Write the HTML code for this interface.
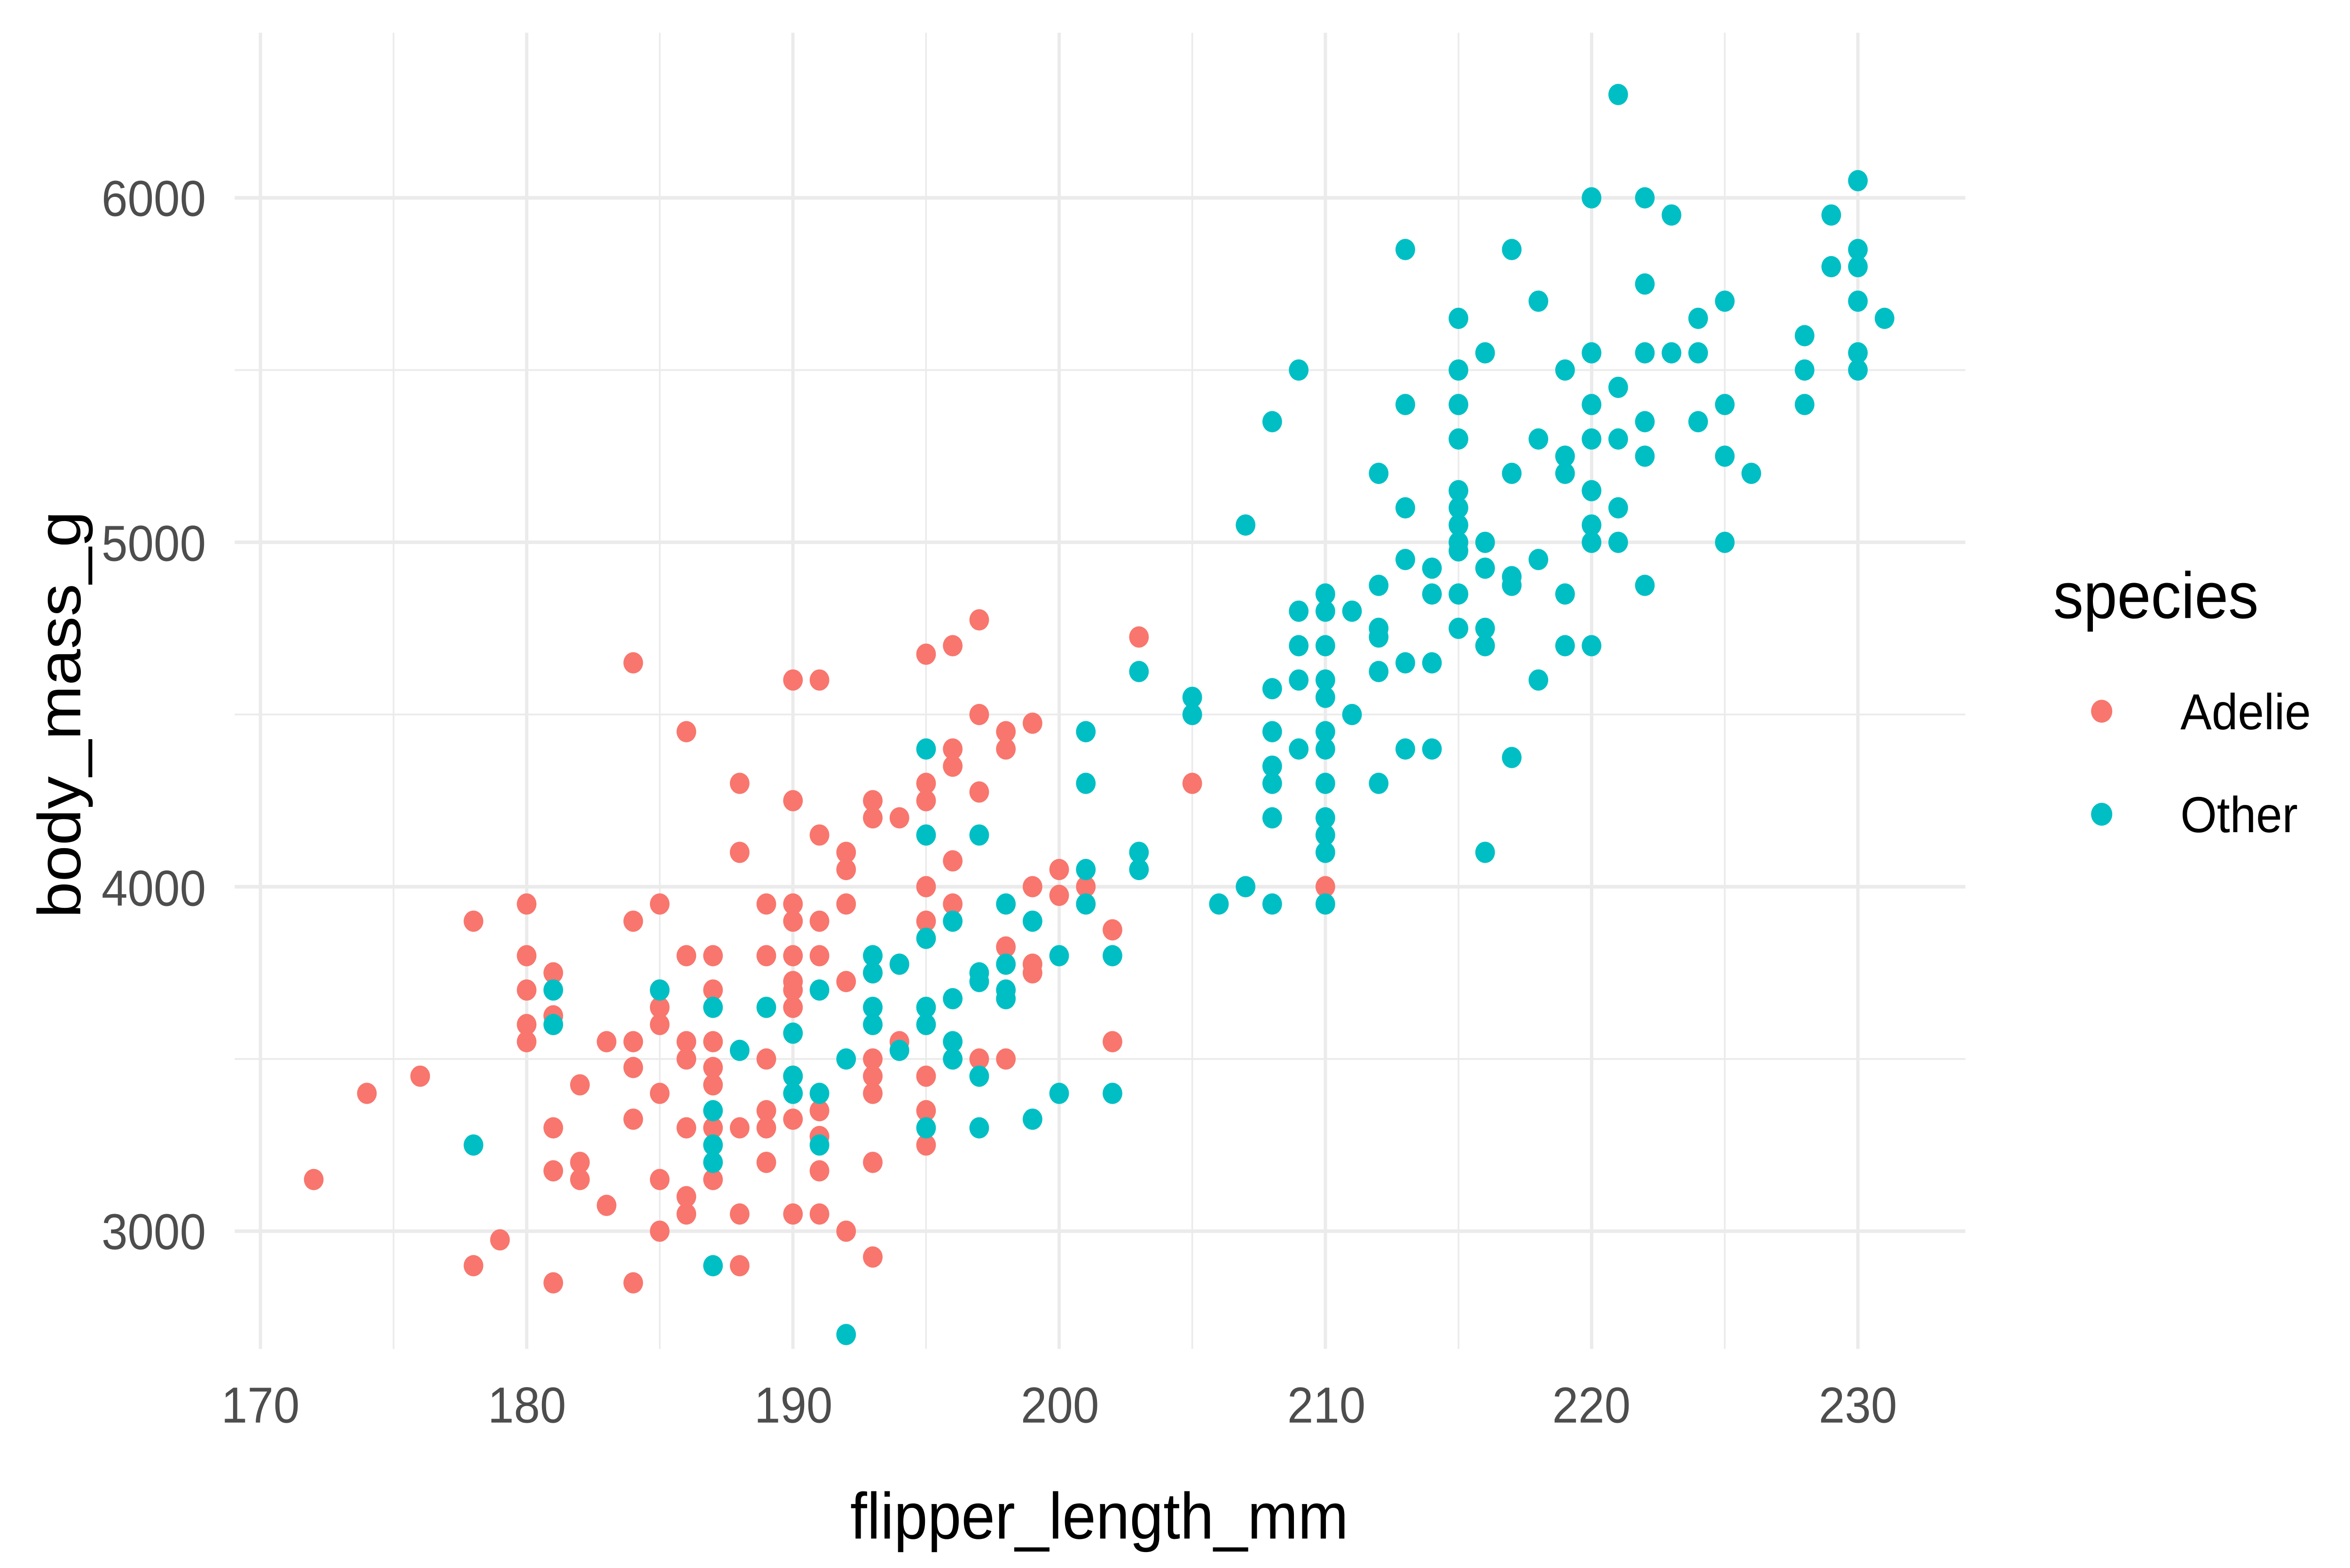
<!DOCTYPE html>
<html><head><meta charset="utf-8"><style>
html,body{margin:0;padding:0;background:#fff;width:100vw;height:100vh;overflow:hidden;}
svg{display:block;width:100vw;height:100vh;}
text{font-family:"Liberation Sans",Arial,sans-serif;}
</style></head><body>
<svg id="s" viewBox="0 0 1552 959" preserveAspectRatio="none" xmlns="http://www.w3.org/2000/svg">
<rect width="1552" height="959" fill="#fff"/>
<g id="grid"></g>
<g id="pts"></g>
<g font-size="31" fill="#4D4D4D" text-anchor="middle">
<text x="172" y="870">170</text><text x="348" y="870">180</text><text x="524" y="870">190</text><text x="700" y="870">200</text><text x="876" y="870">210</text><text x="1051" y="870">220</text><text x="1227" y="870">230</text>
</g>
<g font-size="31" fill="#4D4D4D" text-anchor="end">
<text x="136" y="764">3000</text><text x="136" y="554">4000</text><text x="136" y="343">5000</text><text x="136" y="132">6000</text>
</g>
<text x="726" y="941" font-size="40" text-anchor="middle" fill="#000">flipper_length_mm</text>
<text transform="translate(53,437) rotate(-90)" font-size="40" text-anchor="middle" fill="#000">body_mass_g</text>
<text x="1356" y="378" font-size="40" fill="#000">species</text>
<circle cx="1388" cy="435" r="7" fill="#F8766D"/>
<circle cx="1388" cy="498" r="7" fill="#00BFC4"/>
<text x="1440" y="446" font-size="31" fill="#000">Adelie</text>
<text x="1440" y="509" font-size="31" fill="#000">Other</text>
</svg>
<script>
function X(f){return 172+(f-170)*17.583;}
function Y(m){return 753-(m-3000)*0.21067;}
var g=document.getElementById("grid"),h="";
for(var f=170;f<=230;f+=5){var maj=f%10==0;h+='<line x1="'+X(f)+'" x2="'+X(f)+'" y1="20" y2="825" stroke="#EBEBEB" stroke-width="'+(maj?2.2:1.1)+'"/>';}
for(var m=3000;m<=6000;m+=500){var maj=m%1000==0;h+='<line x1="155" x2="1298" y1="'+Y(m)+'" y2="'+Y(m)+'" stroke="#EBEBEB" stroke-width="'+(maj?2.2:1.1)+'"/>';}
g.innerHTML=h;
var A="172,3150;174,3400;176,3450;178,3900;178,2900;179,2975;180,3950;180,3800;180,3700;180,3600;180,3550;181,3750;181,3625;181,3300;181,3175;181,2850;182,3425;182,3200;182,3150;183,3550;183,3075;184,4650;184,3900;184,3550;184,3475;184,3325;184,2850;185,3950;185,3700;185,3650;185,3600;185,3400;185,3150;185,3000;186,4450;186,3800;186,3550;186,3500;186,3300;186,3100;186,3050;187,3800;187,3700;187,3550;187,3475;187,3425;187,3300;187,3150;188,4300;188,4100;188,3300;188,3050;188,2900;189,3950;189,3800;189,3500;189,3350;189,3300;189,3200;190,4600;190,4250;190,3950;190,3900;190,3800;190,3725;190,3700;190,3650;190,3450;190,3325;190,3050;191,4600;191,4150;191,3900;191,3800;191,3350;191,3275;191,3175;191,3050;192,4100;192,4050;192,3950;192,3725;192,3000;193,4250;193,4200;193,3750;193,3500;193,3450;193,3400;193,3200;193,2925;194,4200;194,3775;194,3550;195,4675;195,4300;195,4250;195,4000;195,3900;195,3450;195,3350;195,3250;196,4700;196,4400;196,4350;196,4075;196,3950;197,4775;197,4500;197,4275;197,3500;198,4450;198,4400;198,3825;198,3500;199,4475;199,4000;199,3775;199,3750;200,4050;200,3975;201,4000;202,3875;202,3550;203,4725;205,4300;210,4000";
var O="178,3250;181,3700;181,3600;185,3700;187,3650;187,3350;187,3250;187,3200;187,2900;188,3525;189,3650;190,3575;190,3450;190,3400;191,3700;191,3400;191,3250;192,3500;192,2700;193,3800;193,3750;193,3650;193,3600;194,3775;194,3525;195,4400;195,4150;195,3850;195,3650;195,3600;195,3300;196,3900;196,3675;196,3550;196,3500;197,4150;197,3750;197,3725;197,3450;197,3300;198,3950;198,3775;198,3700;198,3675;199,3900;199,3325;200,3800;200,3400;201,4450;201,4300;201,4050;201,3950;202,3800;202,3400;203,4625;203,4100;203,4050;205,4550;205,4500;206,3950;207,5050;207,4000;208,5350;208,4575;208,4450;208,4350;208,4300;208,4200;208,3950;209,5500;209,4800;209,4700;209,4600;209,4400;210,4850;210,4800;210,4700;210,4600;210,4550;210,4450;210,4400;210,4300;210,4200;210,4150;210,4100;210,3950;211,4800;211,4500;212,5200;212,4875;212,4750;212,4725;212,4625;212,4300;213,5850;213,5400;213,5100;213,4950;213,4650;213,4400;214,4925;214,4850;214,4650;214,4400;215,5650;215,5500;215,5400;215,5300;215,5150;215,5100;215,5050;215,5000;215,4975;215,4850;215,4750;216,5550;216,5000;216,4925;216,4750;216,4700;216,4100;217,5850;217,5200;217,4900;217,4875;217,4375;218,5700;218,5300;218,4950;218,4600;219,5500;219,5250;219,5200;219,4850;219,4700;220,6000;220,5550;220,5400;220,5300;220,5150;220,5050;220,5000;220,4700;221,6300;221,5450;221,5300;221,5100;221,5000;222,6000;222,5750;222,5550;222,5350;222,5250;222,4875;223,5950;223,5550;224,5650;224,5550;224,5350;225,5700;225,5400;225,5250;225,5000;226,5200;228,5600;228,5500;228,5400;229,5950;229,5800;230,6050;230,5850;230,5800;230,5700;230,5550;230,5500;231,5650";
var p="";
function add(s,c){s.split(";").forEach(function(q){var a=q.split(",");p+='<circle cx="'+X(+a[0]).toFixed(1)+'" cy="'+Y(+a[1]).toFixed(1)+'" r="6.5" fill="'+c+'"/>';});}
add(A,"#F8766D");add(O,"#00BFC4");
document.getElementById("pts").innerHTML=p;
</script>
</body></html>
